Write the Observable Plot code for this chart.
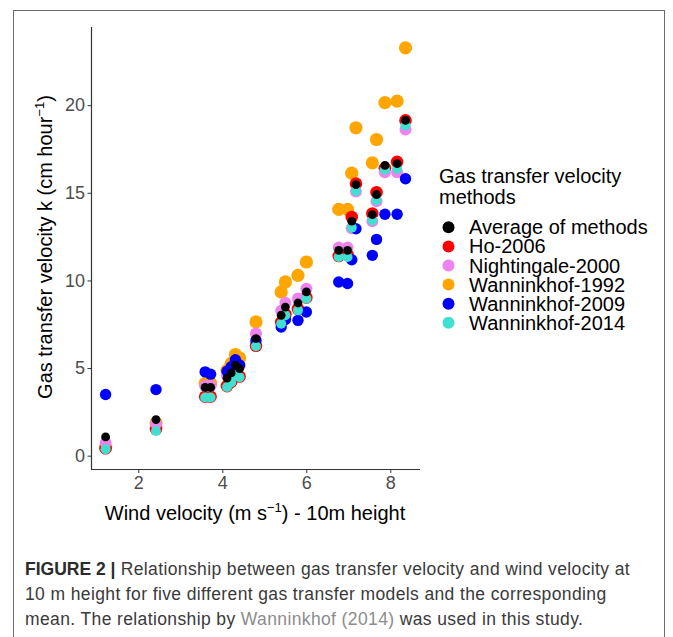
<!DOCTYPE html>
<html>
<head>
<meta charset="utf-8">
<script src="https://cdn.jsdelivr.net/npm/d3@7"></script>
<script src="https://cdn.jsdelivr.net/npm/@observablehq/plot@0.6"></script>
<style>
  body { margin: 0; background: #fff; }
  #page { position: relative; width: 673px; height: 637px; overflow: hidden; font-family: "Liberation Sans", Arial, sans-serif; }
  #box { position: absolute; left: 13px; top: 10px; width: 650px; height: 660px; border: 1.5px solid #6b6b6b; border-bottom: none; }
  #chart { position: absolute; left: 0; top: 0; }
  #caption { position: absolute; left: 25px; top: 557px; font-size: 17.5px; letter-spacing: 0.38px; line-height: 25px; color: #3a3a3a; white-space: nowrap; }
  #caption b { color: #2b2b2b; letter-spacing: 0; }
  #caption .ref { color: #8c8c8c; }
</style>
</head>
<body>
<div id="page">
  <div id="box"></div>
  <div id="chart"></div>
  <div id="caption">
    <div><b>FIGURE 2 |</b> Relationship between gas transfer velocity and wind velocity at</div>
    <div>10 m height for five different gas transfer models and the corresponding</div>
    <div>mean. The relationship by <span class="ref">Wanninkhof (2014)</span> was used in this study.</div>
  </div>
</div>
<script>
// Wind speed at 10 m (m s-1) for each observation
const wind = [1.21, 2.41, 3.58, 3.71, 4.10, 4.20, 4.30, 4.40, 4.79, 5.39, 5.49, 5.79, 5.99,
              6.76, 6.97, 7.07, 7.17, 7.56, 7.66, 7.86, 8.15, 8.35];

// Gas transfer velocity k (cm hour-1) per method
const avgMethods     = [1.10, 2.09, 3.92, 3.92, 4.45, 4.75, 5.19, 5.00, 6.71, 8.04, 8.51, 8.74, 9.37,
                        11.74, 11.74, 13.41, 15.50, 13.78, 14.93, 16.59, 16.69, 19.16];
const ho2006         = [0.45, 1.55, 3.40, 3.40, 4.00, 4.25, 4.70, 4.55, 6.30, 7.65, 8.10, 8.40, 9.05,
                        11.42, 11.51, 13.65, 15.55, 13.85, 15.06, 16.43, 16.79, 19.16];
const nightingale2000 = [0.75, 1.85, 4.00, 4.00, 4.60, 4.90, 5.35, 5.15, 7.00, 8.30, 8.75, 9.00, 9.55,
                        11.90, 11.90, 13.00, 15.10, 13.40, 14.55, 16.20, 16.20, 18.64];
const wanninkhof1992 = [0.50, 1.90, 4.15, 4.15, 4.90, 5.30, 5.80, 5.60, 7.66, 9.37, 9.94, 10.32, 11.08,
                        14.08, 14.08, 16.15, 18.74, 16.74, 18.07, 20.17, 20.26, 23.30];
const wanninkhof2009 = [3.52, 3.80, 4.81, 4.68, 4.85, 5.10, 5.50, 5.20, 6.60, 7.37, 7.80, 7.75, 8.23,
                        9.94, 9.85, 11.21, 12.98, 11.46, 12.37, 13.80, 13.80, 15.83];
const wanninkhof2014 = [0.40, 1.44, 3.35, 3.35, 3.95, 4.20, 4.60, 4.50, 6.27, 7.56, 8.04, 8.32, 8.99,
                        11.36, 11.36, 13.04, 15.13, 13.45, 14.60, 16.35, 16.40, 18.87];

// Legend order and colours
const methodNames  = ["Average of methods", "Ho-2006", "Nightingale-2000", "Wanninkhof-1992", "Wanninkhof-2009", "Wanninkhof-2014"];
const methodColors = ["#000000", "#ff0000", "#ee82ee", "#ffa500", "#0000ff", "#40e0d0"];

// Axis settings
const xDomain = [0.874, 8.707];
const yDomain = [-0.76, 24.46];
const xTicks = [2, 4, 6, 8];
const yTicks = [0, 5, 10, 15, 20];

const seriesValues = [avgMethods, ho2006, nightingale2000, wanninkhof1992, wanninkhof2009, wanninkhof2014];
const rows = seriesValues.flatMap((vals, i) =>
  vals.map((k, j) => ({method: methodNames[i], wind: wind[j], k})));

// Drawing order (back to front) and dot radii for each method
const layers = [
  {name: "Wanninkhof-1992", r: 6.6},
  {name: "Ho-2006", r: 6.3},
  {name: "Nightingale-2000", r: 6.0},
  {name: "Wanninkhof-2009", r: 5.7},
  {name: "Wanninkhof-2014", r: 5.0},
  {name: "Average of methods", r: 4.4}
];

const colorOf = m => methodColors[methodNames.indexOf(m)];

const chart = Plot.plot({
  width: 673,
  height: 530,
  marginLeft: 91,
  marginRight: 253,
  marginTop: 27,
  marginBottom: 61,
  x: {domain: xDomain},
  y: {domain: yDomain},
  style: {fontFamily: "Liberation Sans, Arial, sans-serif", background: "transparent", overflow: "visible"},
  marks: [
    Plot.axisX({ticks: xTicks, tickSize: 4, tickPadding: 3, label: null, fontSize: 18, stroke: "#333", fill: "#4d4d4d"}),
    Plot.axisY({ticks: yTicks, tickSize: 3.5, tickPadding: 3, label: null, fontSize: 18, stroke: "#333", fill: "#4d4d4d"}),
    Plot.ruleX([xDomain[0]], {stroke: "#333", strokeWidth: 1.2}),
    Plot.ruleY([yDomain[0]], {stroke: "#333", strokeWidth: 1.2}),
    ...layers.map(l => Plot.dot(rows.filter(d => d.method === l.name),
      {x: "wind", y: "k", r: l.r, fill: colorOf(l.name), stroke: "none"}))
  ]
});

const svg = d3.select(chart);

// Axis titles with superscript units
const yTitle = svg.append("text")
  .attr("transform", "translate(52,247) rotate(-90)")
  .attr("text-anchor", "middle")
  .attr("font-size", 20)
  .attr("fill", "#000");
yTitle.append("tspan").text("Gas transfer velocity k (cm hour");
yTitle.append("tspan").attr("dy", -8).attr("font-size", 13).text("\u22121");
yTitle.append("tspan").attr("dy", 8).text(")");

const xTitle = svg.append("text")
  .attr("x", 255).attr("y", 520)
  .attr("text-anchor", "middle")
  .attr("font-size", 20)
  .attr("fill", "#000");
xTitle.append("tspan").text("Wind velocity (m s");
xTitle.append("tspan").attr("dy", -8).attr("font-size", 13).text("\u22121");
xTitle.append("tspan").attr("dy", 8).text(") - 10m height");

// Legend
const legend = svg.append("g").attr("font-size", 20).attr("fill", "#000").attr("text-anchor", "start");
legend.append("text").attr("x", 439).attr("y", 183).text("Gas transfer velocity");
legend.append("text").attr("x", 439).attr("y", 204).text("methods");
methodNames.forEach((name, i) => {
  const cy = 227.3 + i * 19.1;
  legend.append("circle").attr("cx", 448.5).attr("cy", cy).attr("r", 6).attr("fill", methodColors[i]);
  legend.append("text").attr("x", 469).attr("y", cy + 7).text(name);
});

document.getElementById("chart").appendChild(chart);
</script>
</body>
</html>
